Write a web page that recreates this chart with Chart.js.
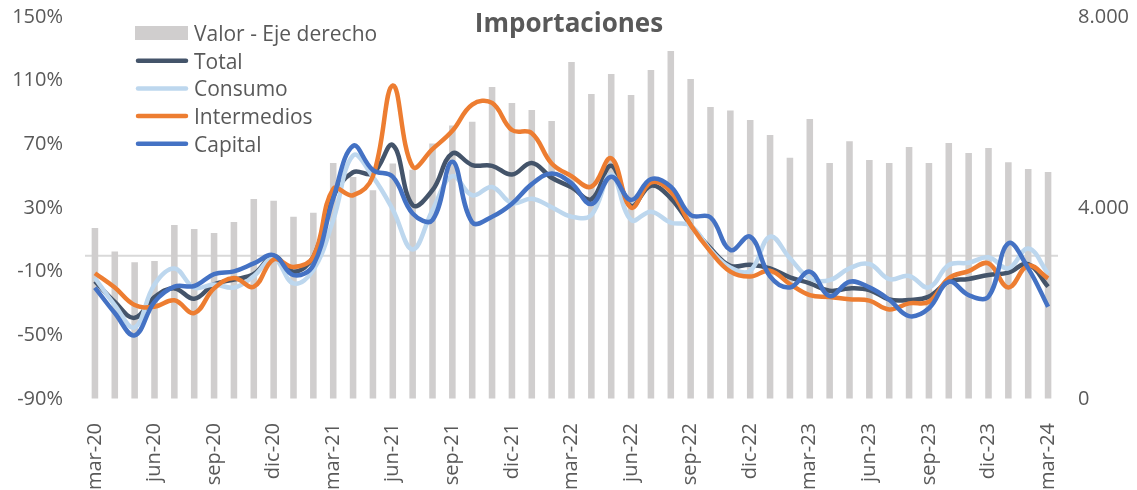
<!DOCTYPE html>
<html>
<head>
<meta charset="utf-8">
<title>Importaciones</title>
<script src="https://cdn.jsdelivr.net/npm/chart.js@4"></script>
<style>
  body { margin: 0; background: #fff; }
  #wrap { width: 1137px; height: 490px; position: relative; }
</style>
</head>
<body>
<div id="wrap"><canvas id="importaciones-chart"></canvas></div>
<script>
const titleText = 'Importaciones';

const months = ['mar-20', 'abr-20', 'may-20', 'jun-20', 'jul-20', 'ago-20', 'sep-20', 'oct-20', 'nov-20', 'dic-20',
    'ene-21', 'feb-21', 'mar-21', 'abr-21', 'may-21', 'jun-21', 'jul-21', 'ago-21', 'sep-21', 'oct-21', 'nov-21', 'dic-21',
    'ene-22', 'feb-22', 'mar-22', 'abr-22', 'may-22', 'jun-22', 'jul-22', 'ago-22', 'sep-22', 'oct-22', 'nov-22', 'dic-22',
    'ene-23', 'feb-23', 'mar-23', 'abr-23', 'may-23', 'jun-23', 'jul-23', 'ago-23', 'sep-23', 'oct-23', 'nov-23', 'dic-23',
    'ene-24', 'feb-24', 'mar-24'];

// millones, eje derecho
const valor = [3580, 3090, 2865, 2890, 3645, 3560, 3475, 3705, 4190, 4150,
    3815, 3900, 4940, 4650, 4370, 4930, 4800, 5350, 5730, 5805,
    6535, 6200, 6050, 5820, 7060, 6390, 6805, 6365, 6890, 7290,
    6700, 6115, 6040, 5845, 5530, 5050, 5865, 4940, 5400, 5005,
    4940, 5280, 4940, 5360, 5150, 5255, 4960, 4815, 4755];

// variacion anual %, eje izquierdo
const total = [-16, -29, -39, -26, -20.5, -27, -18, -15, -11.5, -0.2,
    -10, -0.6, 37, 52.5, 51.7, 69.5, 31.8, 41.2, 64.3, 57,
    56.5, 51, 58.3, 49, 43, 35.5, 56.5, 31.3, 44, 36.1,
    19.3, 4.7, -6.3, -5.6, -7.9, -13.6, -17.3, -22, -20.5, -21.5,
    -27.5, -27.8, -25.7, -16.3, -14.6, -12.1, -10.6, -5.2, -19.4];

const consumo = [-14, -31, -45, -18, -8, -20, -18, -20, -12.8, -1.7,
    -17.4, -9, 22.4, 63, 49.6, 29, 4, 28.7, 50, 38,
    43.2, 33, 35.8, 30.5, 24.5, 25.6, 51, 22.5, 27.7, 20.8,
    18.9, 3.6, -7.4, -9.4, 12, -1.6, -14.2, -15.3, -7.9, -5.2,
    -14.7, -12.7, -19.9, -5.8, -4.4, -1, -7.9, 4.6, -11.1];

const intermedios = [-11, -20, -31, -32, -28, -36, -20.5, -14, -19.5, -2.3,
    -7, -0.6, 42, 38, 50, 107, 56, 67, 78.5, 95,
    96, 79, 77, 58, 50, 43.4, 61.2, 30.2, 46.1, 40.3,
    19.3, 2.6, -10, -13.1, -9.4, -17.8, -24.7, -25.9, -27.4, -28.2,
    -33.7, -29.9, -28.9, -14.2, -9.6, -4.8, -19.9, -6.2, -14.2];

const capital = [-20, -36, -50, -29, -19.4, -19, -11.5, -9.8, -4.8, 0.4,
    -12.2, -5.9, 36, 69, 53.8, 49.6, 26.6, 22.4, 59, 21,
    24.5, 32.7, 45, 51.6, 45.5, 32.5, 49.7, 35, 48.2, 43.4,
    25.6, 24.1, 3.6, 12, -13, -19.9, -10, -25.3, -16.3, -19.9,
    -27.6, -37.9, -33, -16.3, -24.7, -25.7, 7.8, -7.9, -32];

const leftTicks = { min: -90, max: 150, step: 40 };
const rightTicks = { min: 0, max: 8000, step: 4000 };

const textColor = '#595959';
Chart.defaults.font.family = '"Open Sans", "Noto Sans", sans-serif';
Chart.defaults.color = textColor;

function lineSet(label, data, color, order) {
    return {
        type: 'line',
        label: label,
        data: data,
        yAxisID: 'y',
        borderColor: color,
        backgroundColor: color,
        borderWidth: 4.5,
        pointRadius: 0,
        tension: 0.4,
        fill: false,
        order: order
    };
}

// category axis crosses the left axis at 0, plus title and legend over the plot
const overlay = {
    id: 'overlay',
    beforeDatasetsDraw(chart) {
        const ctx = chart.ctx;
        const area = chart.chartArea;
        const y0 = chart.scales.y.getPixelForValue(0);
        ctx.save();
        ctx.strokeStyle = '#d9d9d9';
        ctx.lineWidth = 2;
        ctx.beginPath();
        ctx.moveTo(area.left, y0);
        ctx.lineTo(area.right, y0);
        ctx.stroke();
        ctx.restore();
    },
    afterDatasetsDraw(chart) {
        const ctx = chart.ctx;
        ctx.save();
        ctx.fillStyle = textColor;
        ctx.font = 'bold 26px "Open Sans"';
        ctx.textAlign = 'center';
        ctx.textBaseline = 'alphabetic';
        ctx.fillText(titleText, 569, 32);

        ctx.font = '21px "Open Sans"';
        ctx.textAlign = 'left';
        chart.data.datasets.forEach((ds, i) => {
            const base = 41 + i * 27.7;
            const mid = base - 8;
            const x0 = 135;
            if (ds.type === 'bar') {
                ctx.fillStyle = ds.backgroundColor;
                ctx.fillRect(x0, mid - 7, 53, 14);
            } else {
                ctx.strokeStyle = ds.borderColor;
                ctx.lineWidth = 4.5;
                ctx.lineCap = 'round';
                ctx.beginPath();
                ctx.moveTo(x0 + 3, mid);
                ctx.lineTo(x0 + 51, mid);
                ctx.stroke();
            }
            ctx.fillStyle = textColor;
            ctx.fillText(ds.label, x0 + 59, base);
        });
        ctx.restore();
    }
};

const config = {
    data: {
        labels: months,
        datasets: [
            {
                type: 'bar',
                label: 'Valor - Eje derecho',
                data: valor,
                yAxisID: 'y2',
                backgroundColor: '#d0cece',
                barPercentage: 0.33,
                categoryPercentage: 1,
                order: 5
            },
            lineSet('Total', total, '#44546a', 4),
            lineSet('Consumo', consumo, '#bdd7ee', 3),
            lineSet('Intermedios', intermedios, '#ed7d31', 2),
            lineSet('Capital', capital, '#4472c4', 1)
        ]
    },
    options: {
        responsive: true,
        maintainAspectRatio: false,
        animation: false,
        layout: { padding: { top: 17, left: 0, right: 0, bottom: 0 } },
        plugins: {
            legend: { display: false },
            title: { display: false },
            tooltip: { enabled: false }
        },
        scales: {
            x: {
                offset: true,
                grid: { display: false },
                border: { display: false },
                ticks: {
                    autoSkip: false,
                    maxRotation: 90,
                    minRotation: 90,
                    padding: 16,
                    font: { size: 20 },
                    callback: (value, index) => index % 3 === 0 ? months[index] : ''
                },
                afterFit: scale => { scale.height = 91; }
            },
            y: {
                position: 'left',
                min: leftTicks.min,
                max: leftTicks.max,
                grid: {
                    drawOnChartArea: false,
                    drawTicks: true,
                    tickLength: 22,
                    tickColor: 'rgba(0,0,0,0)'
                },
                border: { display: false },
                ticks: {
                    stepSize: leftTicks.step,
                    padding: 0,
                    font: { size: 20 },
                    callback: v => v + '%'
                },
                afterFit: scale => { scale.width = 85; }
            },
            y2: {
                position: 'right',
                min: rightTicks.min,
                max: rightTicks.max,
                grid: {
                    drawOnChartArea: false,
                    drawTicks: true,
                    tickLength: 20,
                    tickColor: 'rgba(0,0,0,0)'
                },
                border: { display: false },
                ticks: {
                    stepSize: rightTicks.step,
                    padding: 0,
                    font: { size: 20 },
                    callback: v => String(v).replace(/\B(?=(\d{3})+(?!\d))/g, '.')
                },
                afterFit: scale => { scale.width = 79; }
            }
        }
    },
    plugins: [overlay]
};

const importacionesChart = new Chart(
    document.getElementById('importaciones-chart'),
    config
);
</script>
</body>
</html>
